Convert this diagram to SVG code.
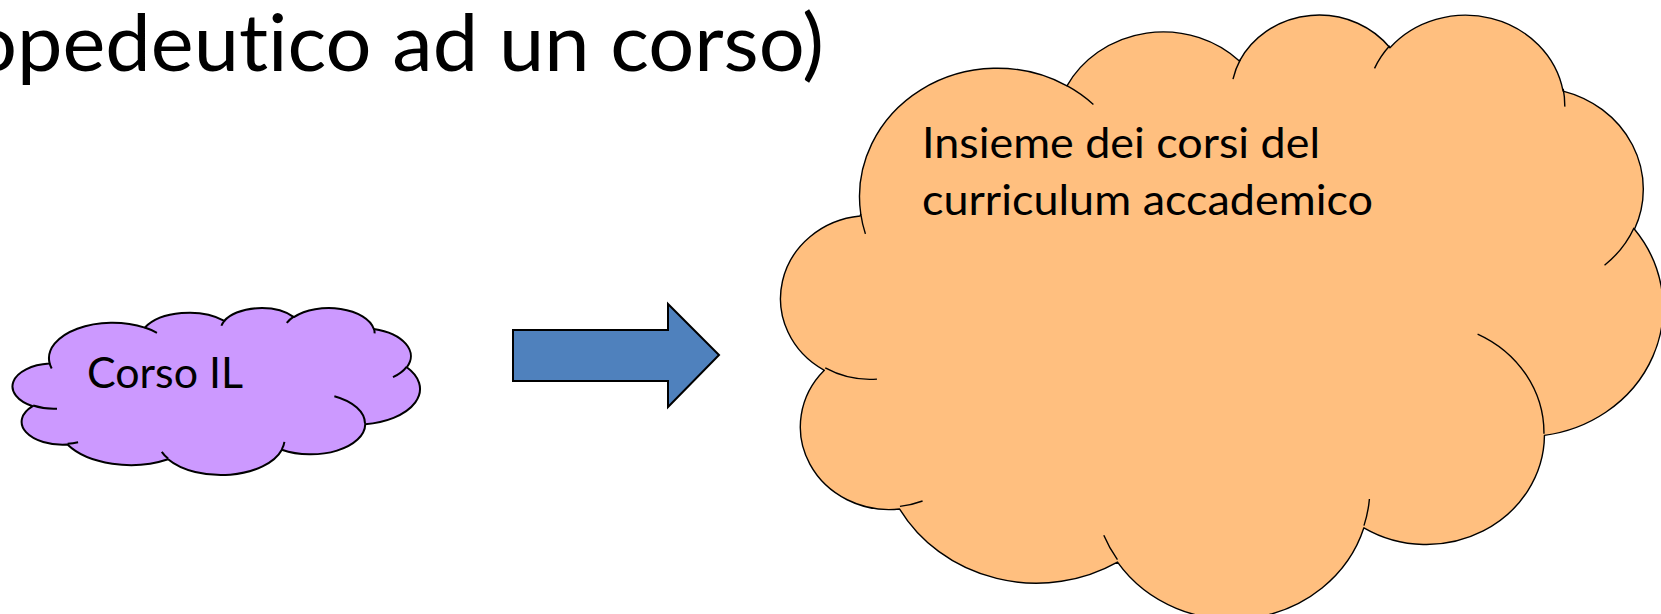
<svg xmlns="http://www.w3.org/2000/svg" xmlns:xlink="http://www.w3.org/1999/xlink" width="1661" height="614" viewBox="0 0 1661 614">
<style>
  text { font-family: Lato, "Liberation Sans", sans-serif; fill: #000; font-variant-ligatures: none; font-feature-settings: "liga" 0, "dlig" 0; }
  .title { font-size: 80px; }
  .label { font-size: 43px; }
  .outline { stroke: #000; stroke-linejoin: round; }
  .lines { fill: none; stroke: #000; stroke-linecap: butt; }
</style>
<defs>
  <path id="cloudShape" vector-effect="non-scaling-stroke" d="M3900 14370 A6753 9190 0 0 1 14005 5202 A5333 7267 0 0 1 22456 3432 A4365 5945 0 0 1 29833 2481 A4857 6595 0 0 1 38319 5576 A5333 7273 0 0 1 41818 15460 A6775 9220 0 0 1 37405 30203 A5785 7867 0 0 1 28556 36814 A6752 9215 0 0 1 16481 39267 A7720 10543 0 0 1 5805 35473 A4360 5918 0 0 1 2114 25551 A4345 5945 0 0 1 3864 14508 Z"/>
  <path id="cloudLines" vector-effect="non-scaling-stroke" fill="none" d="M4693 26177 A4345 5945 0 0 1 2160 25380 M6928 34899 A4360 5918 0 0 1 5819 35281 M16478 39090 A6752 9215 0 0 1 15810 37350 M28827 34751 A6752 9215 0 0 1 28560 36658 M34129 22954 A5785 7867 0 0 1 37381 30090 M41798 15354 A5333 7273 0 0 1 40350 18030 M38324 5426 A4857 6595 0 0 1 38400 6690 M29078 3952 A4857 6595 0 0 1 29820 2340 M22141 4720 A4365 5945 0 0 1 22500 3330 M14000 5192 A6753 9190 0 0 1 15300 6540 M4127 15789 A6753 9190 0 0 1 3900 14370"/>
</defs>

<g id="title">
  <text class="title" x="-29" y="71" textLength="853" lengthAdjust="spacingAndGlyphs">opedeutico ad un corso)</text>
</g>

<g id="node-corso-il">
  <use xlink:href="#cloudShape" href="#cloudShape" class="outline" fill="#CC99FF" stroke-width="2" transform="translate(12.8 307.5) scale(0.009422 0.003864)"/>
  <use xlink:href="#cloudLines" href="#cloudLines" class="lines" stroke-width="2" transform="translate(12.8 307.5) scale(0.009422 0.003864)"/>
  <text class="label" x="87" y="388" textLength="156" lengthAdjust="spacingAndGlyphs">Corso IL</text>
</g>

<g id="connectors">
  <polygon id="arrow" points="513,330 668,330 668,304 719,355 668,407 668,381 513,381" fill="#4F81BD" stroke="#000" stroke-width="2" stroke-linejoin="miter"/>
</g>

<g id="node-insieme">
  <use xlink:href="#cloudShape" href="#cloudShape" class="outline" fill="#FFBF7F" stroke-width="1.4" transform="translate(781.2 13.1) scale(0.020405 0.013981)"/>
  <use xlink:href="#cloudLines" href="#cloudLines" class="lines" stroke-width="1.4" transform="translate(781.2 13.1) scale(0.020405 0.013981)"/>
  <text class="label" x="922" y="158" textLength="398" lengthAdjust="spacingAndGlyphs">Insieme dei corsi del</text>
  <text class="label" x="922" y="215" textLength="451" lengthAdjust="spacingAndGlyphs">curriculum accademico</text>
</g>
</svg>
